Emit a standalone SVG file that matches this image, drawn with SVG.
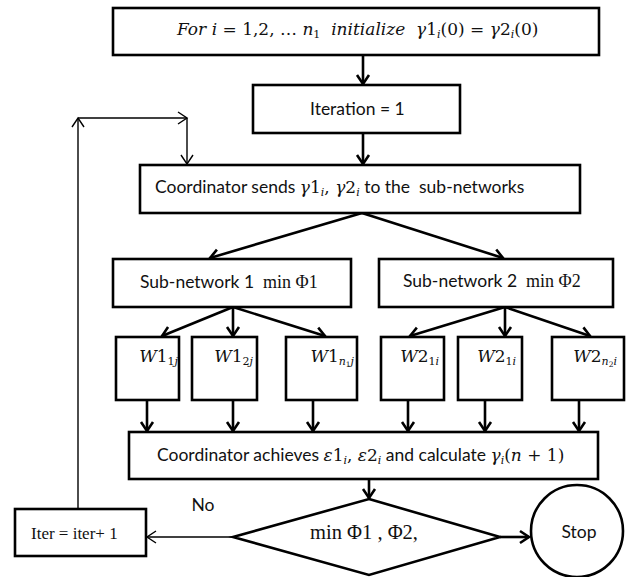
<svg xmlns="http://www.w3.org/2000/svg" width="627" height="577" viewBox="0 0 627 577">
  <style>
    .box { fill: #ffffff; stroke: #000000; stroke-width: 2.6; }
    .thin { fill: none; stroke: #000000; stroke-width: 1.4; }
    .edge { fill: none; stroke: #000000; stroke-width: 2.6; }
    .sans { font-family: "Lato", "Liberation Sans", sans-serif; font-size: 17.5px; fill: #111111; }
    .math { font-family: "DejaVu Serif", "Liberation Serif", serif; font-style: italic; font-size: 17px; fill: #111111; }
    .up { font-style: normal; }
    .rm { font-family: "Liberation Serif", "DejaVu Serif", serif; font-style: normal; font-size: 18px; fill: #111111; }
    .sub { font-size: 11px; }
    .tiny { font-size: 7.5px; }
    .pre { white-space: pre; }
  </style>
  <defs>
    <marker id="head" markerUnits="userSpaceOnUse" markerWidth="16" markerHeight="16" refX="0" refY="0" viewBox="-12 -8 14 16" orient="auto">
      <path d="M-9,-6 L0,0 L-9,6" fill="none" stroke="#000" stroke-width="2.6"/>
    </marker>
    <marker id="headThin" markerUnits="userSpaceOnUse" markerWidth="16" markerHeight="16" refX="0" refY="0" viewBox="-12 -8 14 16" orient="auto">
      <path d="M-9,-6 L0,0 L-9,6" fill="none" stroke="#000" stroke-width="1.4"/>
    </marker>
  </defs>

  <!-- connectors -->
  <g id="connectors">
    <line class="edge" x1="363" y1="55" x2="363" y2="84" marker-end="url(#head)"/>
    <line class="edge" x1="363" y1="133" x2="363" y2="164" marker-end="url(#head)"/>
    <line class="edge" x1="362" y1="213" x2="210" y2="258" marker-end="url(#head)"/>
    <line class="edge" x1="362" y1="213" x2="503" y2="258" marker-end="url(#head)"/>
    <line class="edge" x1="233" y1="307" x2="162" y2="336" marker-end="url(#head)"/>
    <line class="edge" x1="233" y1="307" x2="233" y2="336" marker-end="url(#head)"/>
    <line class="edge" x1="233" y1="307" x2="325" y2="336" marker-end="url(#head)"/>
    <line class="edge" x1="505" y1="307" x2="410" y2="336" marker-end="url(#head)"/>
    <line class="edge" x1="505" y1="307" x2="505" y2="336" marker-end="url(#head)"/>
    <line class="edge" x1="505" y1="307" x2="590" y2="336" marker-end="url(#head)"/>
    <line class="edge" x1="147" y1="400" x2="147" y2="431" marker-end="url(#head)"/>
    <line class="edge" x1="233" y1="400" x2="233" y2="431" marker-end="url(#head)"/>
    <line class="edge" x1="313" y1="400" x2="313" y2="431" marker-end="url(#head)"/>
    <line class="edge" x1="408" y1="400" x2="408" y2="431" marker-end="url(#head)"/>
    <line class="edge" x1="485" y1="400" x2="485" y2="431" marker-end="url(#head)"/>
    <line class="edge" x1="579" y1="400" x2="579" y2="431" marker-end="url(#head)"/>
    <line class="edge" x1="369" y1="479" x2="369" y2="498" marker-end="url(#head)"/>
    <line class="edge" x1="500" y1="537" x2="529" y2="537" marker-end="url(#head)"/>
    <line class="thin" x1="233" y1="537" x2="147" y2="537" marker-end="url(#headThin)"/>
    <line class="thin" x1="78" y1="509" x2="78" y2="118" marker-end="url(#headThin)"/>
    <line class="thin" x1="78" y1="118" x2="187" y2="118" marker-end="url(#headThin)"/>
    <line class="thin" x1="187" y1="118" x2="187" y2="164" marker-end="url(#headThin)"/>
  </g>

  <!-- initialisation -->
  <g id="init">
    <rect class="box" x="113" y="8" width="486" height="47"/>
    <text class="math pre" x="177" y="35">For i <tspan class="up">= 1,2, … </tspan>n<tspan class="sub up" dy="3">1</tspan><tspan dy="-3">  initialize  γ</tspan><tspan class="up">1</tspan><tspan class="sub" dy="3">i</tspan><tspan class="up" dy="-3">(0) = </tspan>γ<tspan class="up">2</tspan><tspan class="sub" dy="3">i</tspan><tspan class="up" dy="-3">(0)</tspan></text>
  </g>

  <g id="iteration">
    <rect class="box" x="253" y="85" width="207" height="48"/>
    <text class="sans" x="310" y="115">Iteration = 1</text>
  </g>

  <g id="coord-send">
    <rect class="box" x="140" y="165" width="440" height="48"/>
    <text class="sans pre" x="155" y="193">Coordinator sends <tspan class="math">γ</tspan><tspan class="math up">1</tspan><tspan class="math sub" dy="3">i</tspan><tspan class="math up" dy="-3">, </tspan><tspan class="math">γ</tspan><tspan class="math up">2</tspan><tspan class="math sub" dy="3">i</tspan><tspan dy="-3"> to the  sub-networks</tspan></text>
  </g>

  <g id="subnet1">
    <rect class="box" x="113" y="259" width="238" height="48"/>
    <text class="sans pre" x="140" y="288">Sub-network 1  <tspan class="rm">min Φ1</tspan></text>
  </g>

  <g id="subnet2">
    <rect class="box" x="379" y="259" width="234" height="48"/>
    <text class="sans pre" x="403" y="287">Sub-network 2  <tspan class="rm">min Φ2</tspan></text>
  </g>

  <g id="w1-1">
    <rect class="box" x="116" y="337" width="63" height="63"/>
    <text class="math" x="178" y="362" text-anchor="end">W<tspan class="up">1</tspan><tspan class="sub up" dy="3">1</tspan><tspan class="sub">j</tspan></text>
  </g>
  <g id="w1-2">
    <rect class="box" x="192" y="337" width="65" height="63"/>
    <text class="math" x="253" y="362" text-anchor="end">W<tspan class="up">1</tspan><tspan class="sub up" dy="3">2</tspan><tspan class="sub">j</tspan></text>
  </g>
  <g id="w1-n">
    <rect class="box" x="286" y="337" width="71" height="63"/>
    <text class="math" x="354" y="362" text-anchor="end">W<tspan class="up">1</tspan><tspan class="sub" dy="3">n</tspan><tspan class="tiny up" dy="2">1</tspan><tspan class="sub" dy="-2">j</tspan></text>
  </g>
  <g id="w2-1">
    <rect class="box" x="381" y="337" width="63" height="63"/>
    <text class="math" x="439" y="362" text-anchor="end">W<tspan class="up">2</tspan><tspan class="sub up" dy="3">1</tspan><tspan class="sub">i</tspan></text>
  </g>
  <g id="w2-2">
    <rect class="box" x="458" y="337" width="64" height="63"/>
    <text class="math" x="516" y="362" text-anchor="end">W<tspan class="up">2</tspan><tspan class="sub up" dy="3">1</tspan><tspan class="sub">i</tspan></text>
  </g>
  <g id="w2-n">
    <rect class="box" x="552" y="337" width="72" height="63"/>
    <text class="math" x="617" y="362" text-anchor="end">W<tspan class="up">2</tspan><tspan class="sub" dy="3">n</tspan><tspan class="tiny up" dy="2">2</tspan><tspan class="sub" dy="-2">i</tspan></text>
  </g>

  <g id="coord-achieve">
    <rect class="box" x="129" y="432" width="469" height="47"/>
    <text class="sans" x="157" y="461">Coordinator achieves <tspan class="math">ε</tspan><tspan class="math up">1</tspan><tspan class="math sub" dy="3">i</tspan><tspan class="math up" dy="-3">, </tspan><tspan class="math">ε</tspan><tspan class="math up">2</tspan><tspan class="math sub" dy="3">i</tspan><tspan dy="-3"> and calculate </tspan><tspan class="math">γ</tspan><tspan class="math sub" dy="3">i</tspan><tspan class="math up" dy="-3">(</tspan><tspan class="math">n</tspan><tspan class="math up"> + 1)</tspan></text>
  </g>

  <g id="decision">
    <polygon class="box" points="369,499 500,537 369,575 233,537"/>
    <text class="rm" x="310" y="539" style="font-size:20.5px">min Φ1 , Φ2,</text>
  </g>

  <text class="sans" x="203" y="511" text-anchor="middle">No</text>

  <g id="iter-inc">
    <rect class="box" x="15" y="509" width="131" height="47"/>
    <text class="rm" x="31" y="539" style="font-size:17px">Iter = iter+ 1</text>
  </g>

  <g id="stop">
    <circle class="box" cx="577" cy="531" r="46"/>
    <text class="sans" x="579" y="538" text-anchor="middle">Stop</text>
  </g>
</svg>
